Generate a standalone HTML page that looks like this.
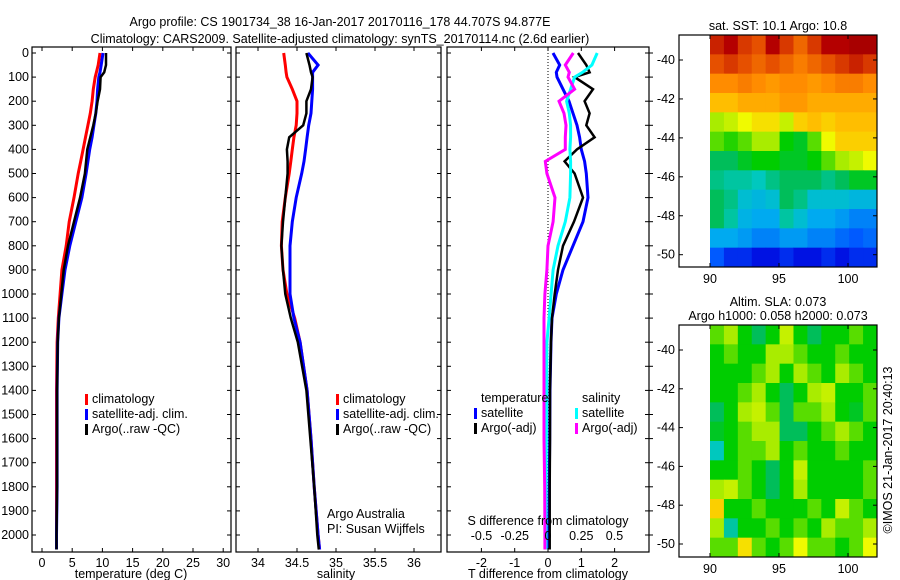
<!DOCTYPE html>
<html><head><meta charset="utf-8"><style>
body{margin:0;background:#fff;width:900px;height:580px;overflow:hidden}
svg{display:block;font-family:"Liberation Sans",sans-serif}
text{font-size:12.5px;fill:#000}
</style></head><body>
<svg id="fig" width="900" height="580">
<text x="340" y="26" text-anchor="middle" font-size="13.5">Argo profile: CS 1901734_38 16-Jan-2017 20170116_178 44.707S 94.877E</text>
<text x="340" y="43" text-anchor="middle" font-size="13.5">Climatology: CARS2009. Satellite-adjusted climatology: synTS_20170114.nc (2.6d earlier)</text>
<g id="g"></g>
</svg>
<script>
const depths=[0,50,80,100,150,200,250,300,350,400,450,500,600,700,800,900,1000,1100,1200,1400,1600,1800,2000,2060];
const tClim=[9.6,9.3,9.0,8.8,8.5,8.3,8.0,7.6,7.2,6.8,6.4,6.0,5.3,4.5,4.0,3.3,3.0,2.7,2.5,2.4,2.4,2.4,2.4,2.4];
const tSat=[10.1,9.8,9.6,9.4,9.2,9.1,8.9,8.6,8.3,7.9,7.6,7.3,6.6,5.6,4.6,3.8,3.3,2.8,2.6,2.5,2.5,2.5,2.4,2.4];
const tArgo=[10.6,10.6,10.3,9.7,9.6,9.2,8.9,8.5,8.0,7.5,7.3,7.1,6.3,5.3,4.3,3.6,3.2,2.8,2.6,2.5,2.5,2.5,2.4,2.4];
const sClim=[34.33,34.35,34.36,34.37,34.44,34.5,34.5,34.49,34.46,34.44,34.42,34.40,34.35,34.31,34.30,34.32,34.37,34.47,34.54,34.63,34.68,34.72,34.77,34.79];
const sSat=[34.64,34.77,34.7,34.7,34.7,34.69,34.68,34.65,34.63,34.61,34.59,34.56,34.49,34.44,34.41,34.41,34.41,34.46,34.54,34.63,34.68,34.72,34.77,34.79];
const sArgo=[34.62,34.66,34.68,34.7,34.68,34.62,34.62,34.58,34.4,34.37,34.38,34.38,34.35,34.32,34.3,34.32,34.35,34.42,34.51,34.62,34.67,34.72,34.76,34.78];
const dTsat=[0.15,0.35,0.25,0.27,0.45,0.63,0.75,0.87,0.95,1.0,1.1,1.15,1.2,1.05,0.75,0.45,0.25,0.12,0.09,0.06,0.05,0.04,0.03,0.03];
const dTargo=[0.9,1.15,1.25,0.8,1.35,1.1,1.25,1.15,1.4,0.87,0.5,0.8,1.05,0.78,0.45,0.3,0.2,0.12,0.09,0.06,0.06,0.05,0.05,0.05];
const dSsat=[0.37,0.33,0.26,0.2,0.17,0.14,0.16,0.17,0.17,0.165,0.17,0.17,0.165,0.13,0.075,0.038,0.023,0.008,-0.008,-0.01,-0.012,-0.014,-0.015,-0.015];
const dSargo=[0.19,0.13,0.16,0.15,0.2,0.083,0.12,0.135,0.13,0.13,-0.02,-0.008,0.053,0.038,0.0,-0.008,-0.023,-0.03,-0.03,-0.03,-0.03,-0.025,-0.023,-0.023];
const depthTicks=[0,100,200,300,400,500,600,700,800,900,1000,1100,1200,1300,1400,1500,1600,1700,1800,1900,2000];
const tTicks=[0,5,10,15,20,25,30];
const sTicks=[34,34.5,35,35.5,36];
const dTTicks=[-2,-1,0,1,2];
const dSTicks=[-0.5,-0.25,0,0.25,0.5];
const dSLabels=["-0.5","-0.25","0","0.25","0.5"];
const sstRows=[
[0.92,0.95,0.9,0.88,0.95,0.9,0.85,0.9,0.95,0.95,0.97,0.97],
[0.88,0.9,0.88,0.85,0.88,0.85,0.82,0.85,0.88,0.9,0.92,0.9],
[0.8,0.8,0.82,0.8,0.78,0.8,0.8,0.78,0.8,0.82,0.82,0.8],
[0.72,0.72,0.75,0.75,0.75,0.78,0.78,0.75,0.75,0.75,0.75,0.75],
[0.6,0.62,0.65,0.68,0.68,0.62,0.7,0.72,0.7,0.72,0.72,0.72],
[0.55,0.52,0.55,0.6,0.6,0.5,0.48,0.55,0.65,0.7,0.7,0.7],
[0.45,0.45,0.48,0.5,0.5,0.48,0.48,0.5,0.55,0.6,0.62,0.65],
[0.42,0.4,0.4,0.38,0.42,0.45,0.45,0.45,0.42,0.45,0.48,0.48],
[0.45,0.42,0.35,0.33,0.35,0.45,0.42,0.35,0.35,0.35,0.33,0.33],
[0.45,0.4,0.32,0.3,0.3,0.4,0.35,0.3,0.3,0.28,0.25,0.25],
[0.3,0.3,0.28,0.25,0.25,0.28,0.28,0.25,0.25,0.22,0.2,0.22],
[0.2,0.15,0.15,0.12,0.12,0.15,0.12,0.12,0.15,0.12,0.15,0.15]];
const slaRows=[
[.55,.6,.5,.45,.5,.62,.5,.45,.5,.5,.55,.5],
[.5,.55,.5,.5,.6,.6,.55,.5,.5,.55,.5,.5],
[.5,.5,.5,.55,.6,.5,.6,.55,.5,.6,.55,.5],
[.5,.5,.55,.6,.5,.45,.5,.6,.62,.5,.5,.55],
[.45,.5,.6,.62,.55,.45,.55,.55,.6,.5,.48,.55],
[.48,.5,.55,.6,.6,.45,.45,.5,.55,.6,.55,.5],
[.38,.5,.55,.55,.6,.5,.55,.5,.5,.55,.5,.5],
[.5,.5,.55,.5,.45,.5,.62,.5,.5,.5,.5,.55],
[.6,.62,.55,.5,.45,.5,.6,.5,.5,.5,.5,.55],
[.7,.5,.5,.55,.5,.5,.5,.55,.5,.62,.55,.5],
[.6,.4,.5,.5,.55,.5,.55,.5,.6,.55,.55,.6],
[.55,.55,.68,.55,.5,.55,.65,.55,.55,.5,.55,.65]];
const latTicks=[-40,-42,-44,-46,-48,-50];
const lonTicks=[90,95,100];

const NS='http://www.w3.org/2000/svg';
const G=document.getElementById('g');
function mk(tag,attrs,parent){const e=document.createElementNS(NS,tag);for(const k in attrs)e.setAttribute(k,attrs[k]);(parent||G).appendChild(e);return e;}
function txt(x,y,s,anchor,parent){const e=mk('text',{x:x,y:y,'text-anchor':anchor||'middle'},parent);e.textContent=s;return e;}
const yD=d=>53+0.241*d;
const PT={x0:32,x1:231},PS={x0:236,x1:441},PD={x0:447,x1:649};
const yTop=47,yBot=552;
const xT=v=>42+6.04*v, xS=v=>258+78*(v-34), xdT=v=>548+33.3*v, xdS=v=>548+133*v;

function frame(P,name,labels){
  const r=mk('rect',{x:P.x0,y:yTop,width:P.x1-P.x0,height:yBot-yTop,fill:'none',stroke:'#000','stroke-width':1.2});
  
  
  depthTicks.forEach(d=>{
    mk('line',{x1:P.x0,x2:P.x0+4,y1:yD(d),y2:yD(d),stroke:'#000'});
    mk('line',{x1:P.x1,x2:P.x1-4,y1:yD(d),y2:yD(d),stroke:'#000'});
    if(labels){const t=txt(P.x0-3,yD(d)+4,String(d),'end');}
  });
}
function line(xs,xf,color,name,w){
  const pts=xs.map((v,i)=>xf(v).toFixed(1)+','+yD(depths[i]).toFixed(1)).join(' ');
  const p=mk('polyline',{points:pts,fill:'none',stroke:color,'stroke-width':w||3,'stroke-linejoin':'miter'});
  
  
}
function xticks(P,ticks,xf,labs,y){
  ticks.forEach((v,i)=>{const x=xf(v);
    mk('line',{x1:x,x2:x,y1:yBot,y2:yBot-4,stroke:'#000'});mk('line',{x1:x,x2:x,y1:yTop,y2:yTop+4,stroke:'#000'});
    const t=txt(x,y||567,labs?labs[i]:String(v));});
}
function legend(x,y,items){
  items.forEach((it,i)=>{
    mk('rect',{x:x,y:y+i*15-9,width:3,height:11,fill:it[0]});
    const t=txt(x+7,y+i*15,it[1],'start');
    
    
  });
}
// Panel 1
frame(PT,'temperature-panel',true);
line(tClim,xT,'#f00','temperature-climatology-line');
line(tSat,xT,'#00f','temperature-satellite-line');
line(tArgo,xT,'#000','temperature-argo-line',2.5);
xticks(PT,tTicks,xT);
let a=txt(131,578,'temperature (deg C)');
legend(85,403,[['#f00','climatology'],['#00f','satellite-adj. clim.'],['#000','Argo(..raw -QC)']]);
// Panel 2
frame(PS,'salinity-panel',false);
line(sClim,xS,'#f00','salinity-climatology-line');
line(sSat,xS,'#00f','salinity-satellite-line');
line(sArgo,xS,'#000','salinity-argo-line',2.5);
xticks(PS,sTicks,xS);
a=txt(336,578,'salinity');
legend(336,403,[['#f00','climatology'],['#00f','satellite-adj. clim.'],['#000','Argo(..raw -QC)']]);
a=txt(327,518,'Argo Australia','start');
a=txt(327,533,'PI: Susan Wijffels','start');
// Panel 3
frame(PD,'difference-panel',false);
depthTicks.forEach(d=>mk('line',{x1:PD.x1,x2:PD.x1+4,y1:yD(d),y2:yD(d),stroke:'#000'}));
mk('line',{x1:548,x2:548,y1:yTop,y2:yBot,stroke:'#000','stroke-dasharray':'1,2'});
line(dTsat,xdT,'#00f','temp-diff-satellite-line');
line(dTargo,xdT,'#000','temp-diff-argo-line',2.5);
line(dSsat,xdS,'#0ff','sal-diff-satellite-line');
line(dSargo,xdS,'#f0f','sal-diff-argo-line');
xticks(PD,dTTicks,xdT);
dSTicks.forEach((v,i)=>{const t=txt(xdS(v),540,dSLabels[i]);});
a=txt(548,525,'S difference from climatology');
a=txt(548,578,'T difference from climatology');
a=txt(481,402,'temperature','start');
a=txt(582,402,'salinity','start');
legend(474,417,[['#00f','satellite'],['#000','Argo(-adj)']]);
legend(575,417,[['#0ff','satellite'],['#f0f','Argo(-adj)']]);

// Maps
const STOPS=[[0,0,0,130],[0.1,0,0,220],[0.2,0,90,255],[0.3,0,170,240],[0.38,0,200,190],[0.45,0,190,90],[0.5,0,205,0],[0.58,140,230,0],[0.65,240,250,0],[0.72,255,190,0],[0.8,255,140,0],[0.88,230,80,0],[0.95,180,0,0],[1,150,0,0]];
function cmap(v){v=Math.max(0,Math.min(1,v));
  for(let i=1;i<STOPS.length;i++){if(v<=STOPS[i][0]){const a=STOPS[i-1],b=STOPS[i],f=(v-a[0])/(b[0]-a[0]);
    return 'rgb('+[1,2,3].map(k=>Math.round(a[k]+(b[k]-a[k])*f)).join(',')+')';}}
  return 'rgb(150,0,0)';}
function map(y0,y1,lat40,lat50,rows,name,title){
  const xL=v=>710+13.8*(v-90), yL=v=>lat40+(lat50-lat40)*(v+40)/(-10);
  const latTop=-40-(y0-lat40)/((lat50-lat40)/10), latBot=-40-(y1-lat40)/((lat50-lat40)/10);
  const nR=rows.length,nC=rows[0].length,dLat=(latTop-latBot)/nR,dLon=(102.1-90)/nC;
  rows.forEach((row,i)=>row.forEach((v,j)=>{
    const la=latTop-i*dLat,lo=90+j*dLon;
    const c=mk('rect',{x:xL(lo),y:yL(la),width:xL(lo+dLon)-xL(lo)+0.5,height:yL(la-dLat)-yL(la)+0.5,fill:cmap(v)});
    
    
  }));
  const f=mk('rect',{x:679,y:y0,width:198,height:y1-y0,fill:'none',stroke:'#000','stroke-width':1.2});
  
  
  latTicks.forEach(v=>{mk('line',{x1:679,x2:683,y1:yL(v),y2:yL(v),stroke:'#000'});mk('line',{x1:877,x2:873,y1:yL(v),y2:yL(v),stroke:'#000'});
    const t=txt(675,yL(v)+4,String(v),'end');});
  lonTicks.forEach(v=>{mk('line',{x1:xL(v),x2:xL(v),y1:y1,y2:y1-4,stroke:'#000'});mk('line',{x1:xL(v),x2:xL(v),y1:y0,y2:y0+4,stroke:'#000'});
    const t=txt(xL(v),y1+16,String(v));});
  title.forEach((s,i)=>{const t=txt(778,y0-(title.length-1-i)*14-5,s);});
}
map(35,267,60,254.7,sstRows,'sst-map',['sat. SST: 10.1 Argo: 10.8']);
map(325,557,350,544,slaRows,'sla-map',['Altim. SLA: 0.073','Argo h1000: 0.058 h2000: 0.073']);
a=mk('text',{x:0,y:0,transform:'translate(892,450) rotate(-90)','text-anchor':'middle'});
a.textContent='©IMOS 21-Jan-2017 20:40:13';


</script>
</body></html>
